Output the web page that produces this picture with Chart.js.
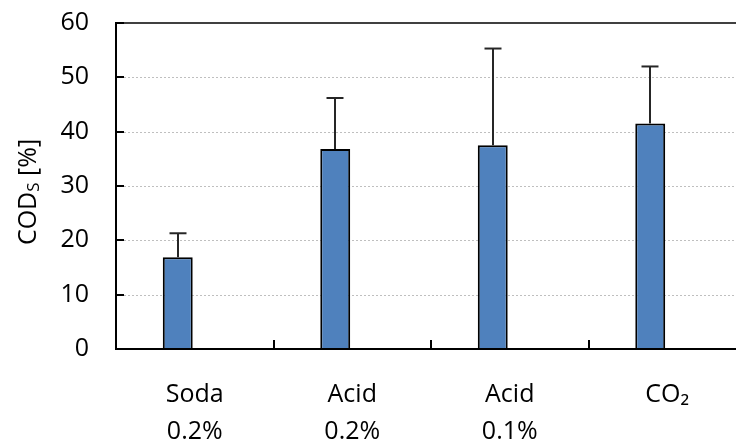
<!DOCTYPE html>
<html>
<head>
<meta charset="utf-8">
<script src="https://cdn.jsdelivr.net/npm/chart.js@4/dist/chart.umd.min.js"></script>
<style>
html,body{margin:0;padding:0;background:#fff;overflow:hidden;width:736px;height:443px;}
#wrap{width:750px;height:443px;}
</style>
</head>
<body>
<div id="wrap"><canvas id="c" width="750" height="443"></canvas></div>
<script>
const categories = [["Soda", "0.2%"], ["Acid", "0.2%"], ["Acid", "0.1%"], ["CO\u2082", ""]];
const codsValues = [16.9, 36.8, 37.5, 41.5];
const codsErrors = [4.4, 9.4, 17.8, 10.5];
const emptySeries = [null, null, null, null];
const yTicks = [0, 10, 20, 30, 40, 50, 60];

const FONT = "'Open Sans', 'Liberation Sans', sans-serif";

const decorPlugin = {
  id: 'decor',
  beforeDatasetsDraw(chart) {
    const {ctx, chartArea: a, scales: {y}} = chart;
    ctx.save();
    ctx.strokeStyle = '#BFBFBF';
    ctx.lineWidth = 1;
    ctx.setLineDash([2, 2]);
    yTicks.forEach(v => {
      if (v === 0 || v === 60) return;
      const py = Math.round(y.getPixelForValue(v)) + 0.5;
      ctx.beginPath(); ctx.moveTo(a.left, py); ctx.lineTo(a.right, py); ctx.stroke();
    });
    ctx.restore();
  },
  afterDatasetsDraw(chart) {
    const {ctx, chartArea: a, scales: {x, y}} = chart;
    const meta = chart.getDatasetMeta(0);
    ctx.save();
    ctx.strokeStyle = '#262626';
    ctx.lineWidth = 2;
    meta.data.forEach((bar, i) => {
      const px = Math.round(bar.x);
      const y0 = y.getPixelForValue(codsValues[i]);
      const y1 = y.getPixelForValue(codsValues[i] + codsErrors[i]);
      ctx.beginPath(); ctx.moveTo(px, y0); ctx.lineTo(px, y1); ctx.stroke();
      ctx.beginPath(); ctx.moveTo(px - 8.5, y1); ctx.lineTo(px + 8.5, y1); ctx.stroke();
    });
    ctx.strokeStyle = '#404040';
    ctx.lineWidth = 2;
    ctx.beginPath(); ctx.moveTo(a.left, a.top); ctx.lineTo(a.right, a.top); ctx.stroke();
    ctx.strokeStyle = '#000';
    ctx.lineWidth = 2;
    ctx.beginPath(); ctx.moveTo(a.left, a.top - 1); ctx.lineTo(a.left, a.bottom); ctx.lineTo(a.right, a.bottom); ctx.stroke();
    yTicks.forEach(v => {
      const py = Math.round(y.getPixelForValue(v));
      ctx.beginPath(); ctx.moveTo(a.left, py); ctx.lineTo(a.left + 8, py); ctx.stroke();
    });
    for (let i = 1; i < categories.length; i++) {
      const px = Math.round((x.getPixelForValue(i - 1) + x.getPixelForValue(i)) / 2);
      ctx.beginPath(); ctx.moveTo(px, a.bottom); ctx.lineTo(px, a.bottom - 9); ctx.stroke();
    }
    ctx.translate(29, (a.top + a.bottom) / 2 + 6);
    ctx.rotate(-Math.PI / 2);
    ctx.fillStyle = '#000';
    ctx.textBaseline = 'middle';
    const big = '25px ' + FONT, small = '17px ' + FONT;
    ctx.font = big; const w1 = ctx.measureText('COD').width;
    ctx.font = small; const w2 = ctx.measureText('S').width;
    ctx.font = big; const w3 = ctx.measureText(' [%]').width;
    let sx = -(w1 + w2 + w3) / 2;
    ctx.textAlign = 'left';
    ctx.font = big; ctx.fillText('COD', sx, 0); sx += w1;
    ctx.font = small; ctx.fillText('S', sx, 5); sx += w2;
    ctx.font = big; ctx.fillText(' [%]', sx, 0);
    ctx.restore();
  }
};

new Chart(document.getElementById('c'), {
  type: 'bar',
  data: {
    labels: categories,
    datasets: [
      { label: 'CODs', data: codsValues, backgroundColor: '#4F81BD', borderColor: '#000', borderWidth: 2, borderSkipped: 'bottom' },
      { label: 'empty', data: emptySeries, backgroundColor: 'rgba(0,0,0,0)' }
    ]
  },
  options: {
    responsive: false,
    animation: false,
    events: [],
    layout: { padding: { top: 23, right: 4, left: 0, bottom: 0 } },
    datasets: { bar: { categoryPercentage: 0.432, barPercentage: 0.88 } },
    plugins: { legend: { display: false }, tooltip: { enabled: false }, title: { display: false } },
    scales: {
      x: {
        grid: { display: false, drawTicks: false },
        border: { display: false },
        ticks: { color: '#000', font: { family: FONT, size: 25, lineHeight: 1.48 }, padding: 27, maxRotation: 0, autoSkip: false },
        afterFit(scale) { scale.height = 94; scale.paddingLeft = 0; scale.paddingRight = 0; }
      },
      y: {
        min: 0, max: 60,
        grid: { display: false, drawTicks: false },
        border: { display: false },
        ticks: { stepSize: 10, color: '#000', font: { family: FONT, size: 25 }, padding: 27 },
        afterFit(scale) { scale.width = 116; scale.paddingTop = 0; scale.paddingBottom = 0; }
      }
    }
  },
  plugins: [decorPlugin]
});
</script>
</body>
</html>
